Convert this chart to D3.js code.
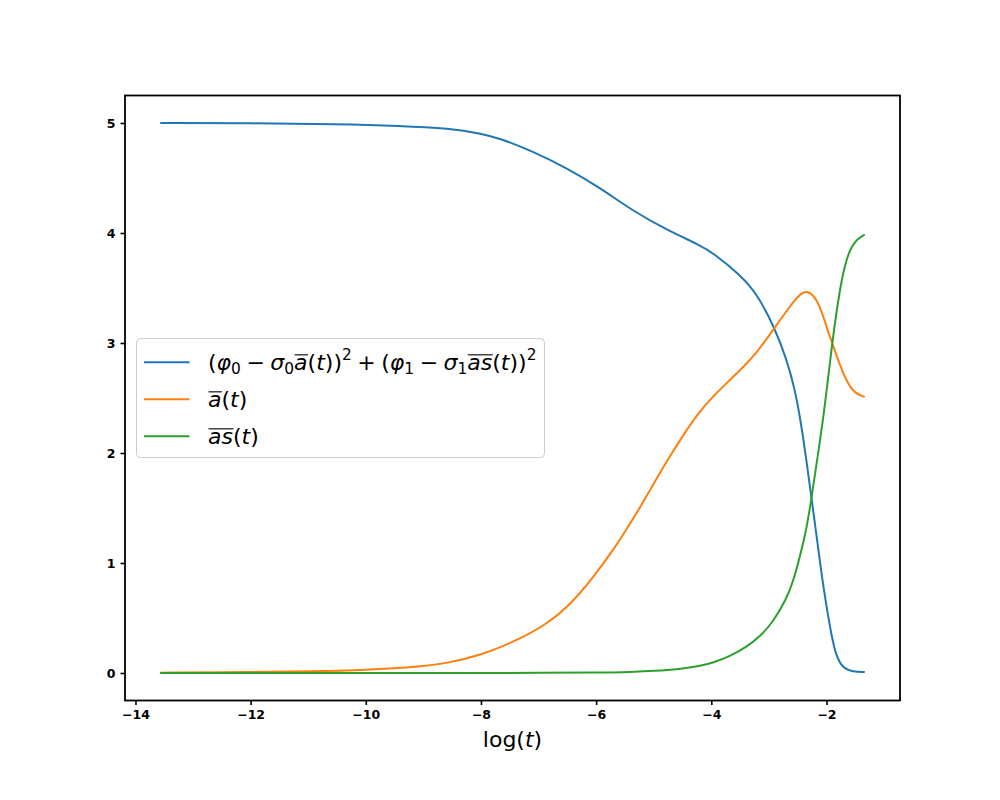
<!DOCTYPE html>
<html>
<head>
<meta charset="utf-8">
<script src="https://cdn.jsdelivr.net/npm/d3@7"></script>
<style>
  html, body { margin: 0; padding: 0; background: #ffffff; }
  svg { display: block; font-family: "DejaVu Sans", sans-serif; }
</style>
</head>
<body>
<svg id="chart" width="1000" height="800"></svg>
<script>
// ---- data (log t, value) ----
const distT = [-13.57, -12.0, -10.5, -9.4, -8.54, -8.0, -7.67, -7.09, -6.51, -5.93, -5.36, -4.78,
  -4.2, -3.97, -3.5, -3.21, -2.9, -2.69, -2.55, -2.45, -2.35, -2.26, -2.17, -2.09, -2.0,
  -1.91, -1.83, -1.71, -1.54, -1.335];
const distV = [5.0, 4.998, 4.99, 4.975, 4.95, 4.905, 4.86, 4.74, 4.59, 4.41, 4.2, 4.03,
  3.89, 3.82, 3.62, 3.45, 3.14, 2.85, 2.58, 2.3, 1.94, 1.59, 1.24, 0.91, 0.605,
  0.333, 0.15, 0.04, 0.012, 0.008];

const aT = [-13.57, -12.0, -11.0, -10.0, -9.0, -8.59, -8.01, -7.44, -6.86, -6.45, -6.05, -5.7,
  -5.47, -5.24, -5.07, -4.89, -4.72, -4.49, -4.26, -3.97, -3.5, -3.21, -2.9, -2.64, -2.46,
  -2.32, -2.17, -2.06, -1.97, -1.885, -1.77, -1.65, -1.51, -1.335];
const aV = [0.003, 0.008, 0.015, 0.027, 0.06, 0.09, 0.16, 0.28, 0.44, 0.62, 0.87, 1.12,
  1.31, 1.5, 1.66, 1.82, 1.97, 2.16, 2.34, 2.52, 2.75, 2.91, 3.14, 3.33, 3.45,
  3.48, 3.4, 3.25, 3.1, 2.98, 2.8, 2.65, 2.54, 2.51];

const asT = [-13.57, -10.0, -8.0, -7.0, -6.0, -5.36, -5.0, -4.55, -4.2, -3.97, -3.68, -3.39,
  -3.16, -2.93, -2.69, -2.58, -2.46, -2.35, -2.26, -2.17, -2.06, -1.99, -1.9, -1.83,
  -1.77, -1.71, -1.65, -1.58, -1.48, -1.335];
const asV = [0, 0, 0, 0.001, 0.003, 0.01, 0.018, 0.035, 0.062, 0.093, 0.152, 0.235,
  0.33, 0.46, 0.68, 0.83, 1.06, 1.3, 1.59, 1.91, 2.3, 2.6, 3.0, 3.27,
  3.47, 3.64, 3.76, 3.86, 3.94, 3.985];

const xTicks = [-14, -12, -10, -8, -6, -4, -2];
const yTicks = [0, 1, 2, 3, 4, 5];
const colors = ["#1f77b4", "#ff7f0e", "#2ca02c"];

const series = [
  {t: distT, v: distV},
  {t: aT, v: aV},
  {t: asT, v: asV}
];

// ---- layout ----
const svg = d3.select("#chart");
const mLeft = 125, mRight = 900, mTop = 95.5, mBottom = 700.5;

const allT = series.flatMap(s => s.t), allV = series.flatMap(s => s.v);
const xMin = d3.min(allT), xMax = d3.max(allT);
const xPad = 0.05 * (xMax - xMin);
const x = d3.scaleLinear().domain([xMin - xPad, xMax + xPad]).range([mLeft, mRight]);
const yMin = d3.min(allV), yMax = 5.0;
const yPad = 0.05 * (yMax - yMin);
const y = d3.scaleLinear().domain([yMin - yPad, yMax + yPad]).range([mBottom, mTop]);

const fmt = d => d3.format("d")(d).replace("-", "\u2212");

// lines
const plot = svg.append("g");
series.forEach((s, k) => {
  const line = d3.line().x((d, i) => x(s.t[i])).y(d => y(d)).curve(d3.curveBasis);
  plot.append("path").datum(s.v).attr("d", line)
    .attr("fill", "none").attr("stroke", colors[k]).attr("stroke-width", 2)
    .attr("stroke-linejoin", "round");
});

// axes
const xAxis = svg.append("g").attr("transform", `translate(0,${mBottom})`)
  .call(d3.axisBottom(x).tickValues(xTicks).tickSize(4.5).tickPadding(5).tickFormat(fmt));
const yAxis = svg.append("g").attr("transform", `translate(${mLeft},0)`)
  .call(d3.axisLeft(y).tickValues(yTicks).tickSize(4.5).tickPadding(5).tickFormat(fmt));
[xAxis, yAxis].forEach(a => {
  a.select(".domain").remove();
  a.selectAll(".tick line").attr("stroke", "#000").attr("stroke-width", 1.6);
  a.selectAll(".tick text").attr("fill", "#000").attr("font-size", 12.5)
    .attr("font-family", "DejaVu Sans").attr("font-weight", "bold");
});

// frame
svg.append("rect").attr("x", mLeft).attr("y", mTop).attr("width", mRight - mLeft).attr("height", mBottom - mTop)
  .attr("fill", "none").attr("stroke", "#000").attr("stroke-width", 1.8);

// x label
const xl = svg.append("text").attr("x", (mLeft + mRight) / 2).attr("y", 747)
  .attr("text-anchor", "middle").attr("font-size", 22).attr("fill", "#000");
xl.append("tspan").text("log(");
xl.append("tspan").attr("font-style", "italic").text("t");
xl.append("tspan").text(")");

// ---- legend ----
function mathText(g, x0, yb, segs, F) {
  let cx = x0;
  segs.forEach(s => {
    if (s.gap !== undefined) { cx += s.gap * F; return; }
    const size = (s.sub || s.sup) ? F * 0.7 : F;
    const dy = s.sub ? F * 0.2 : (s.sup ? -F * 0.45 : 0);
    const t = g.append("text").attr("x", cx).attr("y", yb + dy)
      .attr("font-size", size).attr("font-style", s.it ? "italic" : "normal")
      .attr("fill", "#000").text(s.t);
    const w = t.node().getComputedTextLength();
    if (s.over) {
      g.append("line").attr("x1", cx + 0.5).attr("x2", cx + w + 0.5)
        .attr("y1", yb - F * 0.68).attr("y2", yb - F * 0.68)
        .attr("stroke", "#000").attr("stroke-width", F * 0.05);
    }
    cx += w;
  });
  return cx;
}

const F = 22;
const legendRows = [
  [{t: "("}, {t: "φ", it: 1}, {t: "0", sub: 1}, {gap: 0.25}, {t: "−"}, {gap: 0.25},
   {t: "σ", it: 1}, {t: "0", sub: 1}, {t: "a", it: 1, over: 1}, {t: "("}, {t: "t", it: 1}, {t: "))"},
   {t: "2", sup: 1}, {gap: 0.25}, {t: "+"}, {gap: 0.25},
   {t: "("}, {t: "φ", it: 1}, {t: "1", sub: 1}, {gap: 0.25}, {t: "−"}, {gap: 0.25},
   {t: "σ", it: 1}, {t: "1", sub: 1}, {t: "as", it: 1, over: 1}, {t: "("}, {t: "t", it: 1}, {t: "))"},
   {t: "2", sup: 1}],
  [{t: "a", it: 1, over: 1}, {t: "("}, {t: "t", it: 1}, {t: ")"}],
  [{t: "as", it: 1, over: 1}, {t: "("}, {t: "t", it: 1}, {t: ")"}]
];

const lg = svg.append("g");
lg.append("rect").attr("x", 136.5).attr("y", 338.5).attr("width", 408).attr("height", 119)
  .attr("rx", 4).attr("fill", "#fff").attr("fill-opacity", 0.8)
  .attr("stroke", "#cccccc").attr("stroke-width", 1);
legendRows.forEach((segs, i) => {
  const yy = 362.3 + i * 37;
  lg.append("line").attr("x1", 144).attr("x2", 189.5).attr("y1", yy).attr("y2", yy)
    .attr("stroke", colors[i]).attr("stroke-width", 2);
  mathText(lg, 208, yy + 7.5, segs, F);
});
</script>
</body>
</html>
